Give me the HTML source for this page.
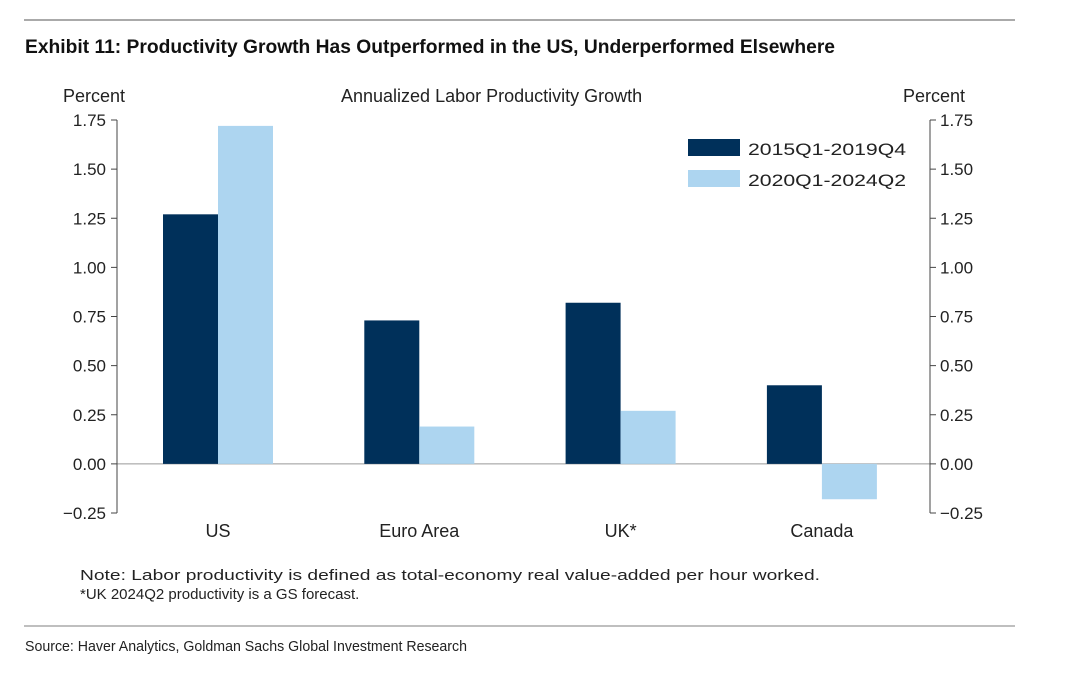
<!DOCTYPE html>
<html><head><meta charset="utf-8"><style>
body{margin:0;background:#fff;width:1080px;height:678px;overflow:hidden}
svg{display:block;font-family:"Liberation Sans",sans-serif}
</style></head><body>
<svg width="1080" height="678">
<line x1="24" y1="20" x2="1015" y2="20" stroke="#aaa" stroke-width="2"/>
<text x="25" y="53" font-size="19" font-weight="bold" textLength="810" lengthAdjust="spacingAndGlyphs" fill="#111">Exhibit 11: Productivity Growth Has Outperformed in the US, Underperformed Elsewhere</text>
<text x="63" y="102" font-size="18" fill="#222">Percent</text>
<text x="903" y="102" font-size="18" fill="#222">Percent</text>
<text x="341" y="102" font-size="18" fill="#222">Annualized Labor Productivity Growth</text>
<g id="plot"></g>
<rect x="688" y="139" width="52" height="17" fill="#00305a"/>
<text x="748" y="155" font-size="17" fill="#222" textLength="158" lengthAdjust="spacingAndGlyphs">2015Q1-2019Q4</text>
<rect x="688" y="170" width="52" height="17" fill="#add5f0"/>
<text x="748" y="186" font-size="17" fill="#222" textLength="158" lengthAdjust="spacingAndGlyphs">2020Q1-2024Q2</text>
<text x="80" y="580" font-size="15" fill="#222" textLength="740" lengthAdjust="spacingAndGlyphs">Note: Labor productivity is defined as total-economy real value-added per hour worked.</text>
<text x="80" y="599" font-size="15" fill="#222">*UK 2024Q2 productivity is a GS forecast.</text>
<line x1="24" y1="626" x2="1015" y2="626" stroke="#aaa" stroke-width="1.5"/>
<text x="25" y="651" font-size="15" fill="#222" textLength="442" lengthAdjust="spacingAndGlyphs">Source: Haver Analytics, Goldman Sachs Global Investment Research</text>
</svg>
<script>
const categories=["US","Euro Area","UK*","Canada"];
const series2015=[1.27,0.73,0.82,0.40];
const series2020=[1.72,0.19,0.27,-0.18];
const ticks=[-0.25,0,0.25,0.5,0.75,1,1.25,1.5,1.75];
const tickLabels=["\u22120.25","0.00","0.25","0.50","0.75","1.00","1.25","1.50","1.75"];
const NS="http://www.w3.org/2000/svg";
const g=document.getElementById("plot");
const X0=117,X1=930,Ymin=-0.25,Ymax=1.75,PY0=513,PY1=120;
const y=v=>PY0-(v-Ymin)/(Ymax-Ymin)*(PY0-PY1);
const cx=i=>218+201.3*i;
function el(t,a){const e=document.createElementNS(NS,t);for(const k in a)e.setAttribute(k,a[k]);g.appendChild(e);return e;}
let e;
e=el("line",{x1:X0,y1:y(0),x2:X1,y2:y(0),stroke:"#999","stroke-width":1});


e=el("line",{x1:X0,y1:PY1,x2:X0,y2:PY0,stroke:"#444","stroke-width":1});


e=el("line",{x1:X1,y1:PY1,x2:X1,y2:PY0,stroke:"#444","stroke-width":1});


ticks.forEach((t,i)=>{
 const yy=y(t);
 let a=el("line",{x1:X0-6,y1:yy,x2:X0,y2:yy,stroke:"#444"});
 
 
 a=el("line",{x1:X1,y1:yy,x2:X1+6,y2:yy,stroke:"#444"});
 
 
 a=el("text",{x:X0-11,y:yy+6,"font-size":17,"text-anchor":"end",fill:"#222"});a.textContent=tickLabels[i];
 
 
 a=el("text",{x:X1+10,y:yy+6,"font-size":17,fill:"#222"});a.textContent=tickLabels[i];
 
 
});
const bw=55;
categories.forEach((c,i)=>{
 const x=cx(i);
 [[series2015[i],"#00305a",x-bw],[series2020[i],"#add5f0",x]].forEach(([v,col,bx],k)=>{
  const top=Math.min(y(v),y(0)),h=Math.abs(y(v)-y(0));
  const r=el("rect",{x:bx,y:top,width:bw,height:h,fill:col});
  
  
 });
 const t=el("text",{x:x,y:537,"font-size":18,"text-anchor":"middle",fill:"#222"});t.textContent=c;
 
 
});
</script>
</body></html>
